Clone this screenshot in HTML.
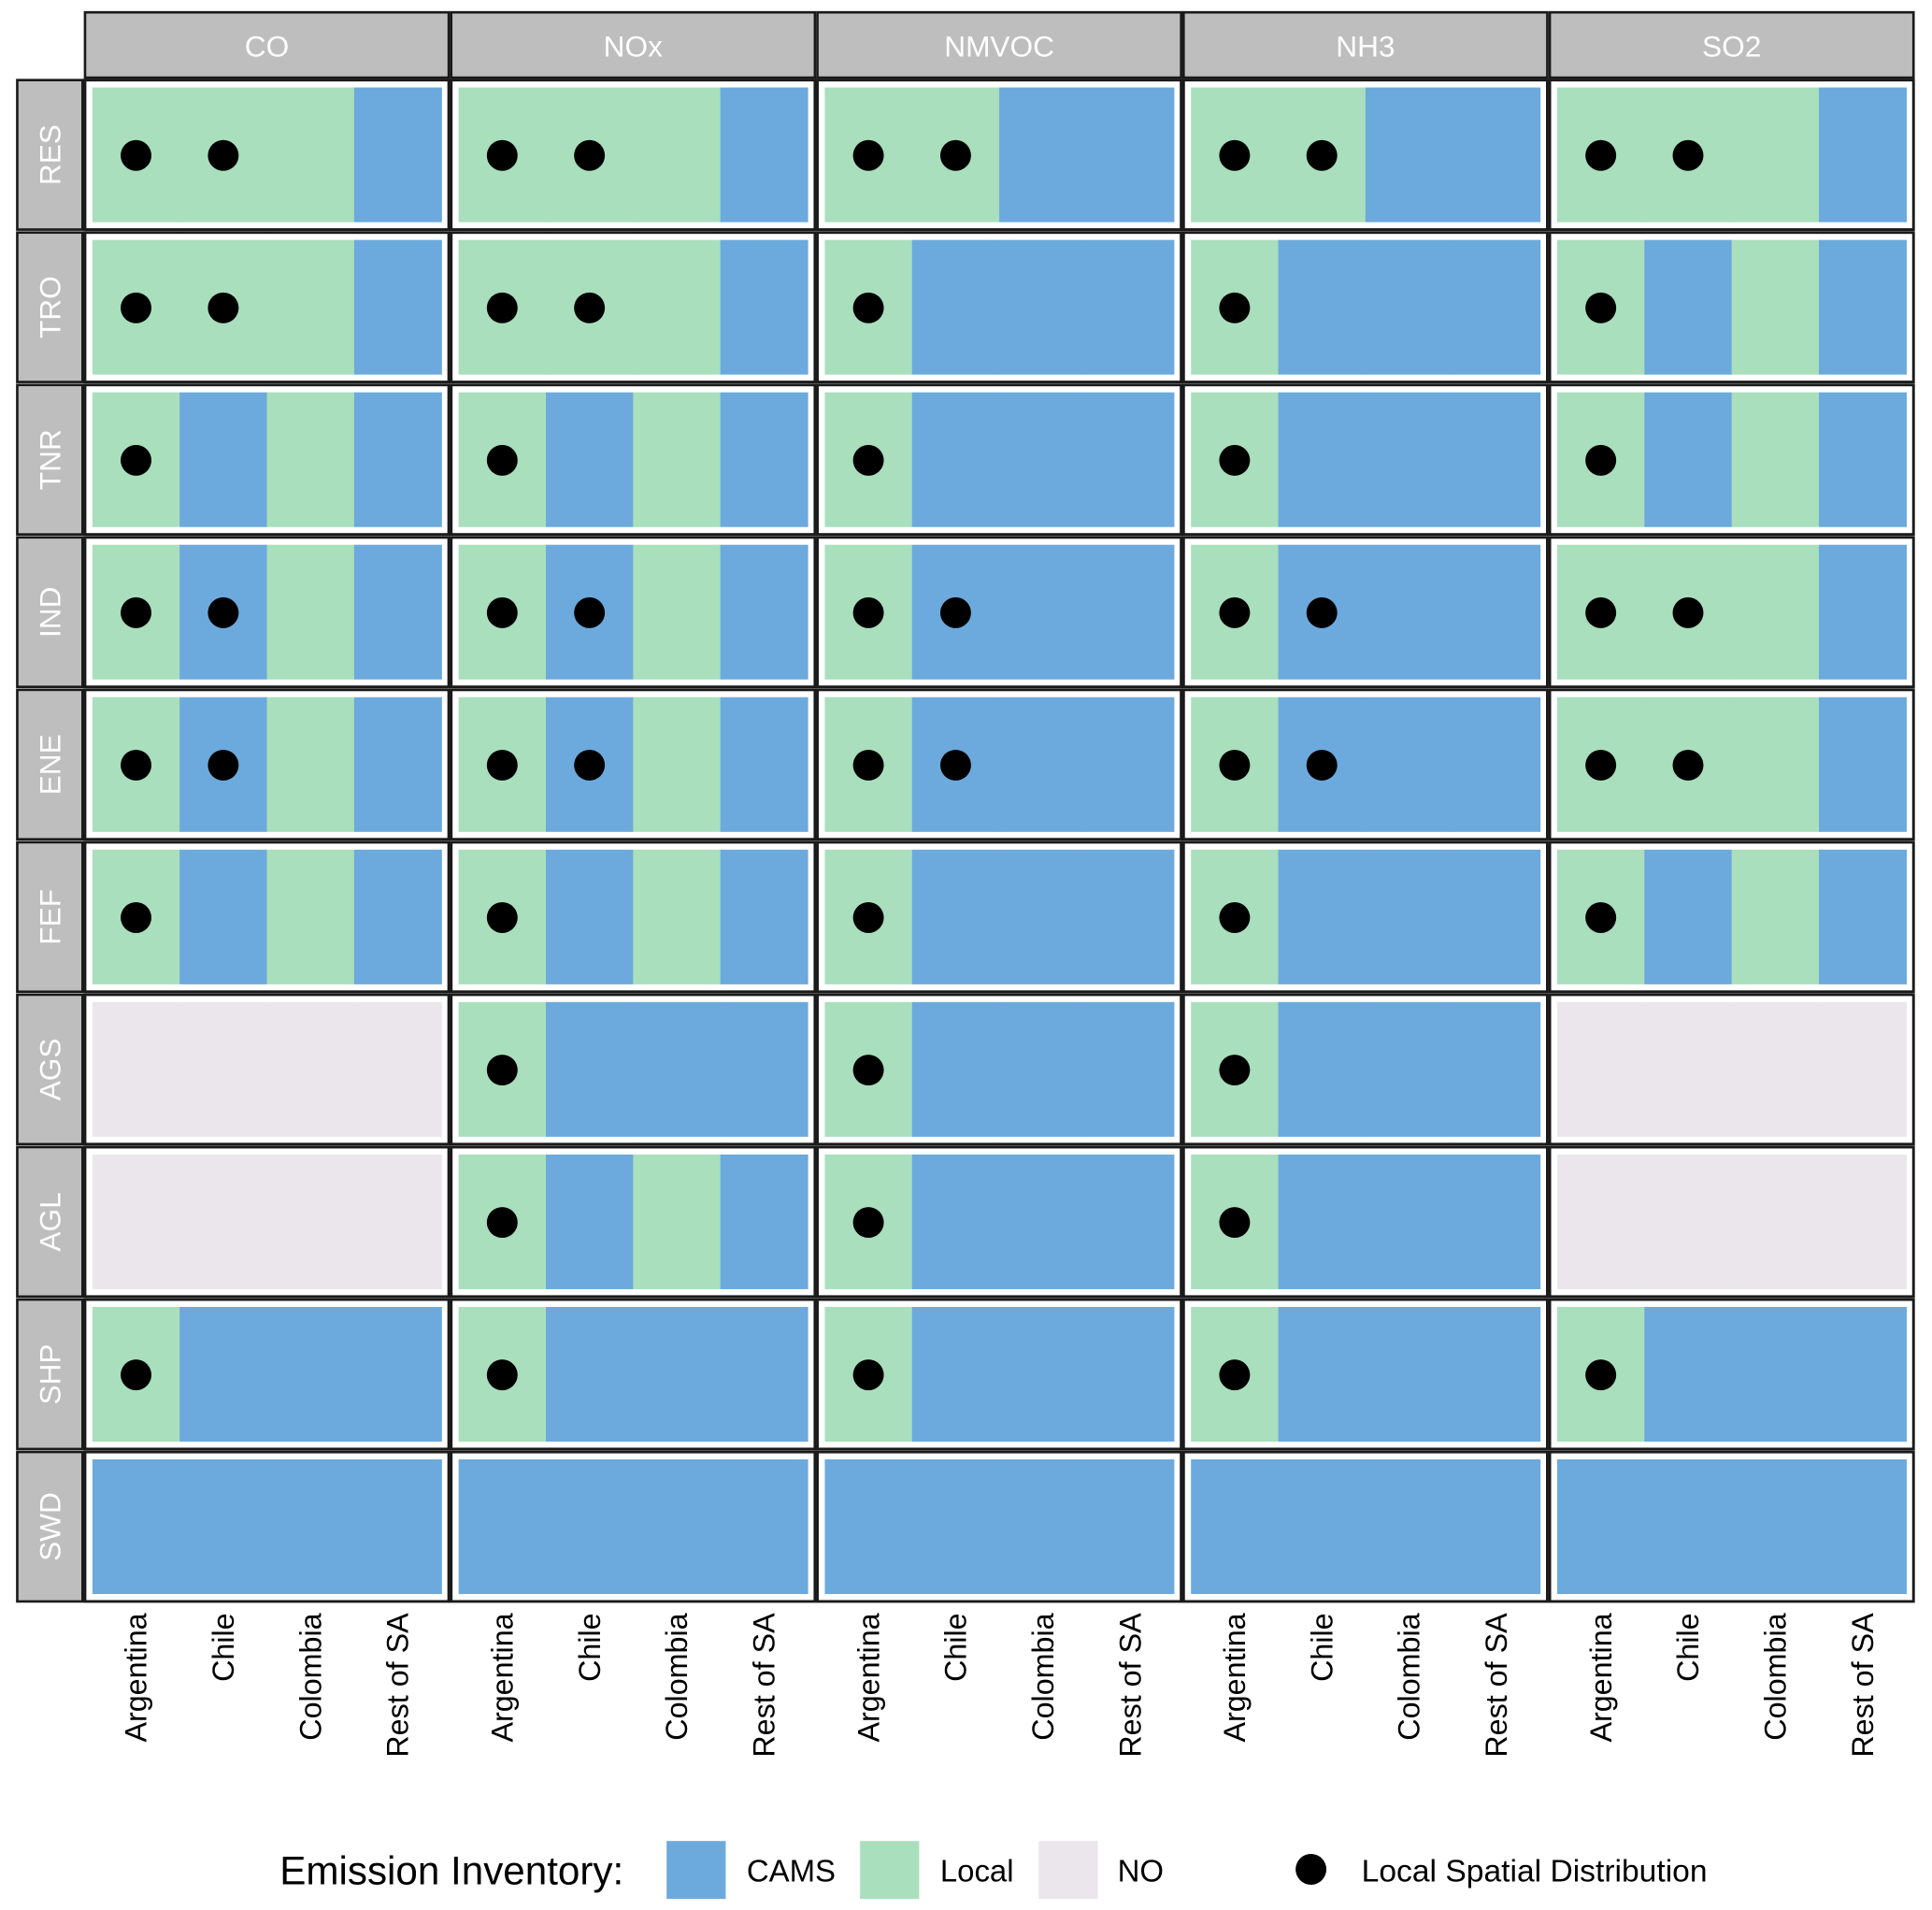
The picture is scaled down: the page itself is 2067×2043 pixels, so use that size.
<!DOCTYPE html>
<html><head><meta charset="utf-8"><style>
html,body{margin:0;padding:0;background:#fff;}
svg{display:block;font-family:"Liberation Sans",Arial,sans-serif;}
</style></head><body>
<svg id="chart" width="2067" height="2043" viewBox="0 0 1568 1550" preserveAspectRatio="none" xmlns="http://www.w3.org/2000/svg"></svg>
<script>
const pollutants = ["CO","NOx","NMVOC","NH3","SO2"];
const sectors = ["RES","TRO","TNR","IND","ENE","FEF","AGS","AGL","SHP","SWD"];
const countries = ["Argentina","Chile","Colombia","Rest of SA"];
// C=CAMS, L=Local, N=NO; one string per sector (4 countries)
const invCO    = ["LLLC","LLLC","LCLC","LCLC","LCLC","LCLC","NNNN","NNNN","LCCC","CCCC"];
const invNOx   = ["LLLC","LLLC","LCLC","LCLC","LCLC","LCLC","LCCC","LCLC","LCCC","CCCC"];
const invNMVOC = ["LLCC","LCCC","LCCC","LCCC","LCCC","LCCC","LCCC","LCCC","LCCC","CCCC"];
const invNH3   = ["LLCC","LCCC","LCCC","LCCC","LCCC","LCCC","LCCC","LCCC","LCCC","CCCC"];
const invSO2   = ["LLLC","LCLC","LCLC","LLLC","LLLC","LCLC","NNNN","NNNN","LCCC","CCCC"];
// local spatial distribution dots: 1 = dot, per country
const dotCO    = ["1100","1100","1000","1100","1100","1000","0000","0000","1000","0000"];
const dotNOx   = ["1100","1100","1000","1100","1100","1000","1000","1000","1000","0000"];
const dotNMVOC = ["1100","1000","1000","1100","1100","1000","1000","1000","1000","0000"];
const dotNH3   = ["1100","1000","1000","1100","1100","1000","1000","1000","1000","0000"];
const dotSO2   = ["1100","1000","1000","1100","1100","1000","0000","0000","1000","0000"];
const invAll = [invCO,invNOx,invNMVOC,invNH3,invSO2];
const dotAll = [dotCO,dotNOx,dotNMVOC,dotNH3,dotSO2];

const NS="http://www.w3.org/2000/svg";
const svg=document.getElementById('chart');
const fill={C:"#6CAADD",L:"#A9DFBC",N:"#EBE6EC"};
function mk(tag,attrs,parent){const e=document.createElementNS(NS,tag);for(const k in attrs)e.setAttribute(k,attrs[k]);(parent||svg).appendChild(e);return e;}

const px0=69, pw=295.2, pgap=2.0, py0=65, ph=121.3, pgapy=2.4;
function panelX(i){return px0+i*(pw+pgap);}
function panelY(j){return py0+j*(ph+pgapy);}
const inset=6;
function cellX(i,k){return panelX(i)+inset+k*(pw-2*inset)/4;}
const cw=(pw-2*inset)/4;

pollutants.forEach((p,i)=>{
  const g=mk('g',{});
  
  
  mk('rect',{x:panelX(i),y:10,width:pw,height:53,fill:"#BEBEBE",stroke:"#1a1a1a","stroke-width":2},g);
  const t=mk('text',{x:panelX(i)+pw/2,y:46,"text-anchor":"middle","font-size":24,fill:"#fff"},g);
  t.textContent=p;
});
sectors.forEach((s,j)=>{
  const g=mk('g',{});
  
  
  mk('rect',{x:14,y:panelY(j),width:53,height:ph,fill:"#BEBEBE",stroke:"#1a1a1a","stroke-width":2},g);
  const cy=panelY(j)+ph/2;
  const t=mk('text',{x:49,y:cy,"text-anchor":"middle","font-size":24,fill:"#fff",transform:`rotate(-90 49 ${cy})`},g);
  t.textContent=s;
});
pollutants.forEach((p,i)=>{
  sectors.forEach((s,j)=>{
    const g=mk('g',{});
    
    
    mk('rect',{x:panelX(i),y:panelY(j),width:pw,height:ph,fill:"#fff",stroke:"#1a1a1a","stroke-width":2.2},g);
    const inv=invAll[i][j], dots=dotAll[i][j];
    for(let k=0;k<4;k++){
      const r=mk('rect',{x:cellX(i,k),y:panelY(j)+inset,width:cw+0.5,height:ph-2*inset,fill:fill[inv[k]]},g);
      
      
    }
    for(let k=0;k<4;k++){
      if(dots[k]==="1"){
        const c=mk('ellipse',{cx:cellX(i,k)+cw/2,cy:panelY(j)+ph/2+0.5,rx:12.5,ry:12.5,fill:"#000"},g);
        
        
      }
    }
  });
  countries.forEach((c,k)=>{
    const x=cellX(i,k)+cw/2+8.5, y=1309;
    const t=mk('text',{x:x,y:y,"text-anchor":"end","font-size":24.5,fill:"#000",transform:`rotate(-90 ${x} ${y})`});
    
    
    t.textContent=c;
  });
});
// legend
const lg=mk('g',{});


const lt=mk('text',{x:227,y:1529,"font-size":32,fill:"#000"},lg);lt.textContent="Emission Inventory:";
const items=[["C","CAMS",541,606],["L","Local",698,763],["N","NO",843,907]];
items.forEach(it=>{
  const e=mk('g',{},lg);
  
  
  mk('rect',{x:it[2],y:1494,width:48,height:47,fill:fill[it[0]]},e);
  const t=mk('text',{x:it[3],y:1527,"font-size":25,fill:"#000"},e);t.textContent=it[1];
});
const de=mk('g',{},lg);


mk('ellipse',{cx:1064,cy:1517,rx:12.5,ry:12.5,fill:"#000"},de);
const dt=mk('text',{x:1105,y:1527,"font-size":25.5,fill:"#000"},de);dt.textContent="Local Spatial Distribution";
</script>
</body></html>
